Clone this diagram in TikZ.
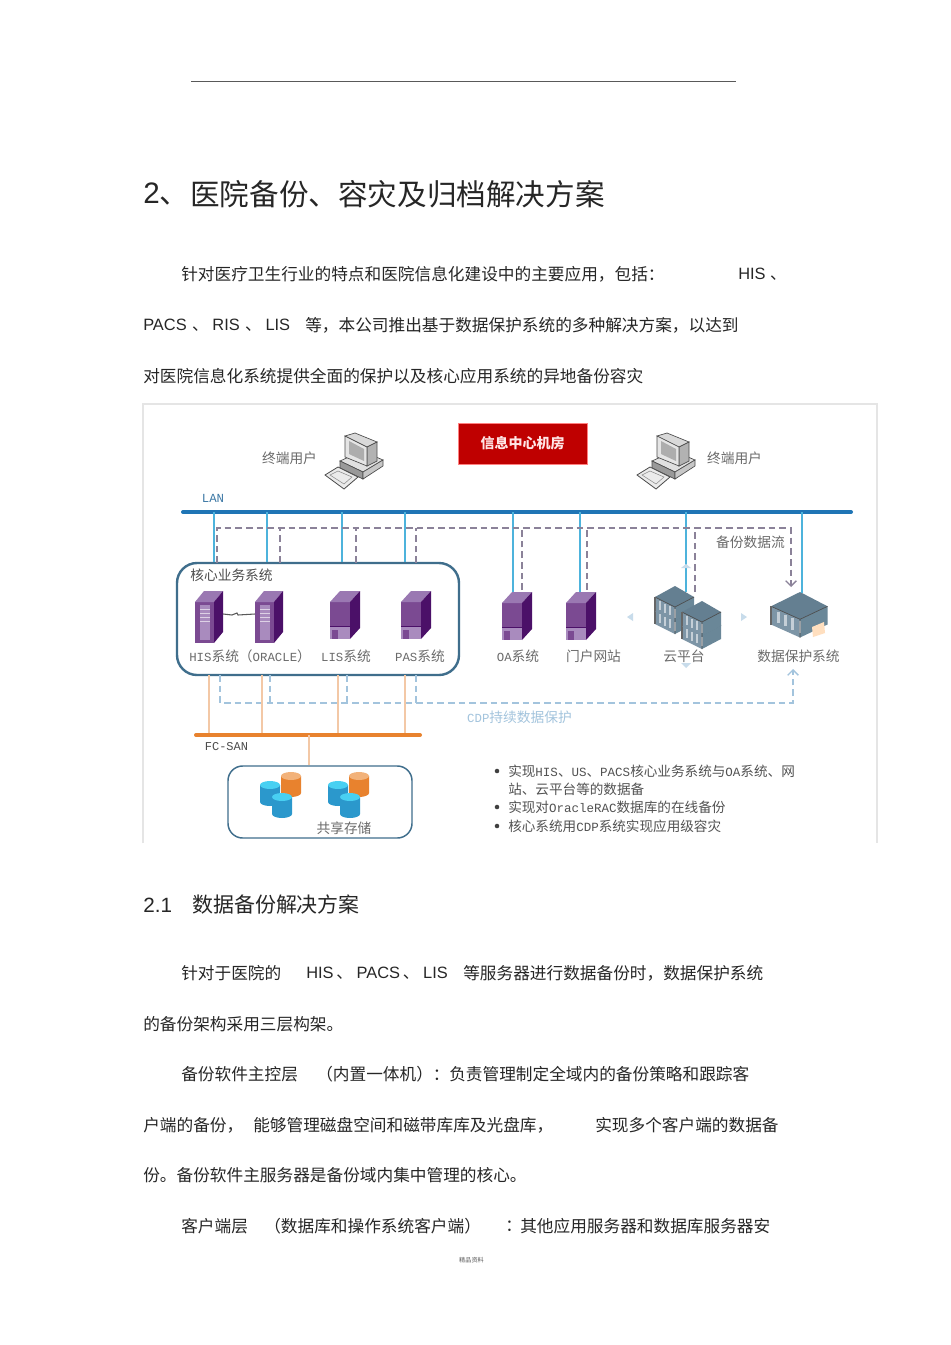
\documentclass[tikz,border=0pt]{standalone}
\usepackage{fontspec}
\usetikzlibrary{arrows.meta}
\setmainfont{Liberation Sans}
\newfontfamily\cjk{Noto Sans CJK SC}
\newfontfamily\figlat[Scale=0.9]{Liberation Mono}
\newfontfamily\notelat[Scale=0.92]{Liberation Mono}
\newcommand{\lt}[1]{{\figlat #1}}
\newcommand{\nlt}[1]{{\notelat #1}}
\newcommand{\dun}[1]{\kern #1{\cjk 、}\kern 3pt}
\definecolor{lanblue}{HTML}{1F75B5}
\definecolor{dropblue}{HTML}{4DB3DC}
\definecolor{dashgrey}{HTML}{8B8299}
\definecolor{cdpblue}{HTML}{A3C4DD}
\definecolor{sanorange}{HTML}{E8822E}
\definecolor{droporange}{HTML}{F3C8A6}
\definecolor{boxblue}{HTML}{3F6E8C}
\definecolor{srvfront}{HTML}{7B4A92}
\definecolor{srvside}{HTML}{4B1068}
\definecolor{srvtop}{HTML}{9A78B2}
\definecolor{srvlow}{HTML}{A98BBE}
\definecolor{racktop}{HTML}{647F91}
\definecolor{rackleft}{HTML}{7D95A6}
\definecolor{rackright}{HTML}{6A8798}
\definecolor{dbblue}{HTML}{2B98CC}
\definecolor{dbcyan}{HTML}{48D0F2}
\definecolor{dbtan}{HTML}{F2B27A}
\tikzset{
    x=0.75pt,y=-0.75pt,
    title/.style={anchor=west,inner sep=0,font=\fontsize{22.2}{26}\cjk,text=black!85},
    subtitle/.style={anchor=west,inner sep=0,font=\fontsize{15.7}{19}\cjk,text=black!85},
    body/.style={anchor=west,inner sep=0,font=\fontsize{12.5}{15}\cjk,text=black!85},
    latin/.style={anchor=west,inner sep=0,font=\fontsize{12.3}{15}\selectfont,text=black!85},
    lbl/.style={inner sep=0,yshift=-0.5pt,font=\fontsize{10.3}{12}\cjk,text=black!58},
    bullet/.style={anchor=west,inner sep=0,font=\fontsize{10.2}{12}\cjk,text=black!68},
    corebox/.style={draw=boxblue,line width=1.8pt,rounded corners=15pt,inner sep=0},
    lanline/.style={draw=dropblue,line width=1.4pt},
    sanline/.style={draw=droporange,line width=1.1pt},
    bakflow/.style={draw=dashgrey,line width=1pt,dash pattern=on 5pt off 3pt},
    cdpflow/.style={draw=cdpblue,line width=1pt,dash pattern=on 5pt off 3pt},
    hisserver/.pic={
        \fill[srvfront] (0,0) rectangle (19,41);
        \fill[srvtop] (0,0) -- (19,0) -- (28,-11) -- (9,-11) -- cycle;
        \fill[srvside] (19,0) -- (28,-11) -- (28,30) -- (19,41) -- cycle;
        \fill[srvlow] (5,3) rectangle (15,38);
        \foreach \s in {7,11,15,19} \draw[white!60!srvlow,line width=0.4pt] (5,\s) -- (15,\s);
        \coordinate (-west) at (0,22);
        \coordinate (-east) at (28,12);
    },
    lisserver/.pic={
        \fill[srvfront] (0,0) rectangle (20,37);
        \fill[srvtop] (0,0) -- (20,0) -- (30,-11) -- (10,-11) -- cycle;
        \fill[srvside] (20,0) -- (30,-11) -- (30,26) -- (20,37) -- cycle;
        \fill[srvlow] (0,25) rectangle (20,37);
        \draw[srvside,line width=0.5pt] (0,24) -- (20,24);
        \fill[srvfront] (2,28) rectangle (8,37);
    },
    rackunit/.pic={
        \fill[rackleft] (-20,11) -- (0,21) -- (0,35) -- (-20,25) -- cycle;
        \fill[rackright] (0,21) -- (19,11) -- (19,25) -- (0,35) -- cycle;
        \fill[racktop] (0,0) -- (19,11) -- (0,21) -- (-20,11) -- cycle;
        \foreach \s in {-16,-11,-6,-1} \fill[white!55!rackleft] (\s,23+\s*0.5) rectangle ++(2,9);
        \draw[black!70,line width=0.5pt] (-20,11) -- (0,21) -- (19,11) (0,21) -- (0,35);
        \draw[black!60,line width=0.8pt] (-20,11) -- (-20,25);
    },
    desktop/.pic={
        \filldraw[fill=black!12,draw=black!70,line width=0.5pt] (15,28) -- (37,18) -- (58,27) -- (38,39) -- cycle;
        \filldraw[fill=black!40,draw=black!70,line width=0.5pt] (15,28) -- (38,39) -- (38,46) -- (15,35) -- cycle;
        \filldraw[fill=black!22,draw=black!70,line width=0.5pt] (38,39) -- (58,27) -- (58,33) -- (38,46) -- cycle;
        \filldraw[fill=black!15,draw=black!70,line width=0.5pt] (20,3) -- (30,0) -- (52,9) -- (42,14) -- cycle;
        \filldraw[fill=black!30,draw=black!70,line width=0.5pt] (42,14) -- (52,9) -- (52,28) -- (42,33) -- cycle;
        \filldraw[fill=black!10,draw=black!70,line width=0.5pt] (20,3) -- (42,14) -- (42,33) -- (20,24) -- cycle;
        \fill[black!32] (24,8) -- (39,16) -- (39,28) -- (24,21) -- cycle;
        \filldraw[fill=black!8,draw=black!70,line width=0.6pt] (0,42) -- (13,34) -- (33,44) -- (19,56) -- cycle;
        \draw[black!45,line width=0.4pt] (5,42) -- (13,38) -- (27,44) -- (19,51) -- cycle;
    },
    dbcyl/.pic={
        \fill[fill=#1] (-10,4) -- (-10,21) arc[start angle=180,end angle=0,x radius=10,y radius=4] -- (10,4) -- cycle;
    },
}
\newcommand{\dbset}[2]{%% one storage group
    \begin{scope}[shift={(#1,#2)}]
        \pic at (21,0) {dbcyl={sanorange}};
        \fill[dbtan] (21,4) ellipse[x radius=10,y radius=4];
        \pic at (0,9) {dbcyl={dbblue}};
        \fill[dbcyan] (0,13) ellipse[x radius=10,y radius=4];
        \pic at (12,21) {dbcyl={dbblue}};
        \fill[dbcyan] (12,25) ellipse[x radius=10,y radius=4];
    \end{scope}
}
\begin{document}
\begin{tikzpicture}
    \useasboundingbox (0,0) rectangle (950,1345);
    \fill[white] (0,0) rectangle (950,1345);
    %% page header
    \coordinate (ruleL) at (191,81);
    \coordinate (ruleR) at (736,81);
    \draw[black!65,line width=0.5pt] (ruleL) -- (ruleR);
    %% page text above
    \node[title,font=\fontsize{22.2}{26}\selectfont] (head1) at (143,194) {2{\cjk 、}};
    \node[title] (head2) at (190,194) {医院备份、容灾及归档解决方案};
    \node[body] (pa1) at (181,274.5) {针对医疗卫生行业的特点和医院信息化建设中的主要应用，包括：};
    \node[latin] (pa2) at (738,274.5) {HIS {\cjk 、}};
    \node[latin] (pa3) at (143,325.5) {PACS\dun{4pt}RIS\dun{4pt}LIS};
    \node[body] (pa4) at (305,325.5) {等，本公司推出基于数据保护系统的多种解决方案，以达到};
    \node[body] (pa5) at (143,376) {对医院信息化系统提供全面的保护以及核心应用系统的异地备份容灾};
    %% frame of the figure
    \coordinate (frameA) at (143,843);
    \coordinate (frameB) at (143,404);
    \coordinate (frameC) at (877,404);
    \coordinate (frameD) at (877,843);
    \draw[black!10,line width=0.8pt] (frameA) -- (frameB) -- (frameC) -- (frameD);
    %% top row
    \node[fill=red!75!black,draw=red!50!white,line width=0.3pt,minimum width=96.5pt,minimum height=30.5pt,inner sep=0,
        font=\fontsize{10.5}{12}\cjk\bfseries,text=white!90!red] (room) at (522.5,443.5) {信息中心机房};
    \pic (pcL) at (325,433) {desktop};
    \pic (pcR) at (637,433) {desktop};
    \node[lbl] (userL) at (289.5,458) {终端用户};
    \node[lbl] (userR) at (734.5,458) {终端用户};
    %% LAN
    \coordinate (lanA) at (183,512);
    \coordinate (lanB) at (851,512);
    \draw[lanblue,line width=3pt,line cap=round] (lanA) -- (lanB);
    \node[inner sep=0,font=\fontsize{10.3}{12}\figlat,text=lanblue!70!gray] (lanname) at (213,498) {LAN};
    \foreach \n/\x in {1/214,2/267,3/342,4/405,5/513,6/580,7/686,8/802}
        \coordinate (lan\n) at (\x,512);
    %% core box
    \node[corebox,fill=white,minimum width=211.5pt,minimum height=84pt] (core) at (318,619) {};
    \node[lbl,text=black!70] (corename) at (231.5,575) {核心业务系统};
    \foreach \n in {1,2,3,4}
        \draw[lanline] (lan\n) -- (lan\n |- core.north);
    \pic (his) at (195,602) {hisserver};
    \pic (ora) at (255,602) {hisserver};
    \pic (lis) at (330,602) {lisserver};
    \pic (pas) at (401,602) {lisserver};
    \pic (oa) at (502,603) {lisserver};
    \pic (web) at (566,603) {lisserver};
    \draw[black!65,line width=0.8pt] (his-east) -- ++(9,1) -- ++(5,-2) -- ++(1,2) -- (ora-west |- his-east);
    %% server labels
    \node[lbl,anchor=west] (hisname) at (189,656) {\lt{HIS}系统（\lt{ORACLE}）};
    \node[lbl] (lisname) at (346,656) {\lt{LIS}系统};
    \node[lbl] (pasname) at (420,656) {\lt{PAS}系统};
    \node[lbl] (oaname) at (518,656) {\lt{OA}系统};
    \node[lbl] (webname) at (593.5,656) {门户网站};
    \node[lbl] (cloudname) at (684,656) {云平台};
    \node[lbl] (dpname) at (798.5,656) {数据保护系统};
    %% racks
    \pic at (675,599) {rackunit};
    \pic (cloud) at (675,586) {rackunit};
    \pic at (702,614) {rackunit};
    \pic at (702,601) {rackunit};
    \pic[xscale=1.45,yscale=1.3] (dp) at (800,592) {rackunit};
    \fill[orange!25!white] (812,627) -- (824,622) -- (825,633) -- (813,637) -- cycle;
    %% other lan drops
    \coordinate (oaTop) at (513,592);
    \coordinate (webTop) at (580,592);
    \coordinate (cloudTop) at (686,592);
    \coordinate (dpTop) at (802,593);
    \draw[lanline] (lan5) -- (oaTop);
    \draw[lanline] (lan6) -- (webTop);
    \draw[lanline] (lan7) -- (cloudTop);
    \draw[lanline] (lan8) -- (dpTop);
    %% backup flow
    \coordinate (bakA) at (217,563);
    \coordinate (bakB) at (280,563);
    \coordinate (bakC) at (356,563);
    \coordinate (bakD) at (416,563);
    \coordinate (bakE) at (522,590);
    \coordinate (bakF) at (587,590);
    \coordinate (bakG) at (695,592);
    \coordinate (bakEnd) at (791,587);
    \coordinate (bakTop) at (791,528);
    \draw[bakflow,-{Straight Barb[length=4pt,width=8pt]}] (bakA) |- (bakTop) -- (bakEnd);
    \foreach \c in {B,C,D,E,F,G}
        \draw[bakflow] (bak\c) -- (bak\c |- bakTop);
    \node[lbl] (bakname) at (750.5,542) {备份数据流};
    %% CDP flow
    \coordinate (cdpA) at (220,675);
    \coordinate (cdpB) at (270,675);
    \coordinate (cdpC) at (347,675);
    \coordinate (cdpD) at (416,675);
    \coordinate (cdpEnd) at (793,669);
    \coordinate (cdpLow) at (793,703);
    \draw[cdpflow,-{Straight Barb[length=4pt,width=8pt]}] (cdpA) |- (cdpLow) -- (cdpEnd);
    \foreach \c in {B,C,D}
        \draw[cdpflow] (cdp\c) -- (cdp\c |- cdpLow);
    \node[lbl,text=cdpblue] (cdpname) at (519.5,717) {\lt{CDP}持续数据保护};
    %% small arrows round the cloud
    \fill[cdpblue!60!white] (627,617) -- (633,613) -- (633,621) -- cycle;
    \fill[cdpblue!60!white] (747,617) -- (741,613) -- (741,621) -- cycle;
    \fill[cdpblue!60!white] (681,663) -- (691,663) -- (686,668) -- cycle;
    \fill[cdpblue!60!white] (681,568) -- (691,568) -- (686,564) -- cycle;
    %% FC-SAN
    \coordinate (sanA) at (196,735);
    \coordinate (sanB) at (420,735);
    \foreach \n/\x in {1/209,2/262,3/338,4/405}
        \coordinate (fc\n) at (\x,675);
    \foreach \n in {1,2,3,4}
        \draw[sanline] (fc\n) -- (fc\n |- sanA);
    \draw[sanorange,line width=3pt,line cap=round] (sanA) -- (sanB);
    \node[inner sep=0,font=\fontsize{10}{11}\figlat,text=black!70] (sanname) at (226.5,747) {FC-SAN};
    \node[corebox,minimum width=138pt,minimum height=54pt,rounded corners=11pt,line width=1.1pt] (store) at (320,802) {};
    \coordinate (sanDrop) at (309,735);
    \draw[sanline] (sanDrop) -- (sanDrop |- store.north);
    \dbset{270}{772}
    \dbset{338}{772}
    \node[lbl] (storename) at (344,828) {共享存储};
    %% notes
    \node[bullet] (note1) at (508,771) {实现\nlt{HIS}、\nlt{US}、\nlt{PACS}核心业务系统与\nlt{OA}系统、网};
    \node[bullet] (note1b) at (508,789) {站、云平台等的数据备};
    \node[bullet] (note2) at (508,807) {实现对\nlt{OracleRAC}数据库的在线备份};
    \node[bullet] (note3) at (508,826) {核心系统用\nlt{CDP}系统实现应用级容灾};
    \foreach \n in {note1,note2,note3}
        \fill[black!75] ([xshift=-8.25pt]\n.west) circle (1.7pt);
    %% page text below
    \node[latin,font=\fontsize{15.5}{19}\selectfont] (sub1) at (143,905) {2.1};
    \node[subtitle] (sub2) at (192,905) {数据备份解决方案};
    \node[body] (pb1) at (181,973) {针对于医院的};
    \node[latin] (pb2) at (306,973) {HIS\dun{2pt}PACS\dun{2pt}LIS};
    \node[body] (pb3) at (463,973) {等服务器进行数据备份时，数据保护系统};
    \node[body] (pb4) at (143,1024) {的备份架构采用三层构架。};
    \node[body] (pb5) at (181,1074) {备份软件主控层};
    \node[body] (pb6) at (316,1074) {（内置一体机）：};
    \node[body] (pb7) at (449,1074) {负责管理制定全域内的备份策略和跟踪客};
    \node[body] (pb8) at (143,1125) {户端的备份，};
    \node[body] (pb9) at (253,1125) {能够管理磁盘空间和磁带库库及光盘库，};
    \node[body] (pb10) at (595,1125) {实现多个客户端的数据备};
    \node[body] (pb11) at (143,1175) {份。备份软件主服务器是备份域内集中管理的核心。};
    \node[body] (pb12) at (181,1226) {客户端层};
    \node[body] (pb13) at (264,1226) {（数据库和操作系统客户端）};
    \node[body] (pb14) at (505,1226) {：};
    \node[body] (pb15) at (520,1226) {其他应用服务器和数据库服务器安};
    %% footer
    \node[inner sep=0,font=\fontsize{4.6}{6}\cjk,text=black!65] (foot) at (471.5,1260) {精品资料};
\end{tikzpicture}
\end{document}
